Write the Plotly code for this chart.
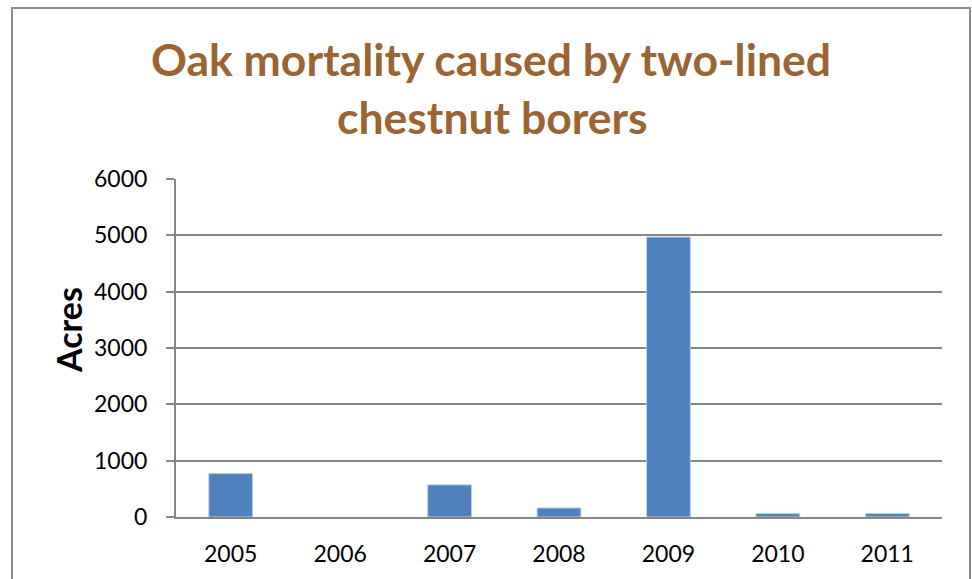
import plotly.graph_objects as go

# Acres of oak mortality attributed to two-lined chestnut borers, by survey year
years = ["2005", "2006", "2007", "2008", "2009", "2010", "2011"]
acres = [770, 0, 570, 160, 4970, 60, 60]
y_ticks = [0, 1000, 2000, 3000, 4000, 5000, 6000]

W, H = 972, 579
# plot area in pixels
L, R, T, B = 176, 942, 179, 517


def px(x):
    return (x - L) / (R - L)


def py(y):
    return (B - y) / (B - T)


fig = go.Figure(
    go.Bar(
        x=years,
        y=acres,
        marker=dict(
            color="#4F81BD",
            # no outline on empty years so nothing shows at zero
            line=dict(color="#B9CDE5", width=[1 if v > 0 else 0 for v in acres]),
        ),
        width=0.4,
        hoverinfo="x+y",
    )
)

grid = "#868686"
fig.update_layout(
    width=W,
    height=H,
    margin=dict(l=L, r=W - R, t=T, b=H - B, pad=0),
    paper_bgcolor="white",
    plot_bgcolor="white",
    showlegend=False,
    font=dict(family="Lato", color="#000000", size=23),
    xaxis=dict(
        type="category",
        showgrid=False,
        showline=True,
        linecolor=grid,
        linewidth=2,
        ticks="",
        ticklabelstandoff=15,
        tickfont=dict(size=23, family="Lato"),
    ),
    yaxis=dict(
        range=[0, 6000],
        tickvals=y_ticks,
        ticktext=[str(v) for v in y_ticks],
        showgrid=True,
        gridcolor=grid,
        gridwidth=1.5,
        showline=True,
        linecolor=grid,
        linewidth=2,
        ticks="outside",
        ticklen=8,
        tickcolor=grid,
        tickwidth=1.5,
        ticklabelstandoff=14,
        zeroline=False,
        tickfont=dict(size=23, family="Lato"),
    ),
    shapes=[
        dict(
            type="rect",
            xref="paper",
            yref="paper",
            x0=px(12),
            x1=px(970),
            y0=py(600),
            y1=py(8),
            line=dict(color="#8C8C8C", width=2),
            fillcolor="rgba(0,0,0,0)",
            layer="below",
        )
    ],
    annotations=[
        dict(
            text="Oak mortality caused by two-lined",
            xref="paper",
            yref="paper",
            x=px(491),
            y=py(59),
            xanchor="center",
            yanchor="middle",
            showarrow=False,
            font=dict(family="Lato", size=44.5, color="#9A6532", weight="bold"),
        ),
        dict(
            text="chestnut borers",
            xref="paper",
            yref="paper",
            x=px(492),
            y=py(117),
            xanchor="center",
            yanchor="middle",
            showarrow=False,
            font=dict(family="Lato", size=44.5, color="#9A6532", weight="bold"),
        ),
        dict(
            text="Acres",
            xref="paper",
            yref="paper",
            x=px(68),
            y=py(330),
            xanchor="center",
            yanchor="middle",
            textangle=-90,
            showarrow=False,
            font=dict(family="Lato", size=34, color="#000000", weight="bold"),
        ),
    ],
)

fig.write_html("out.html")
